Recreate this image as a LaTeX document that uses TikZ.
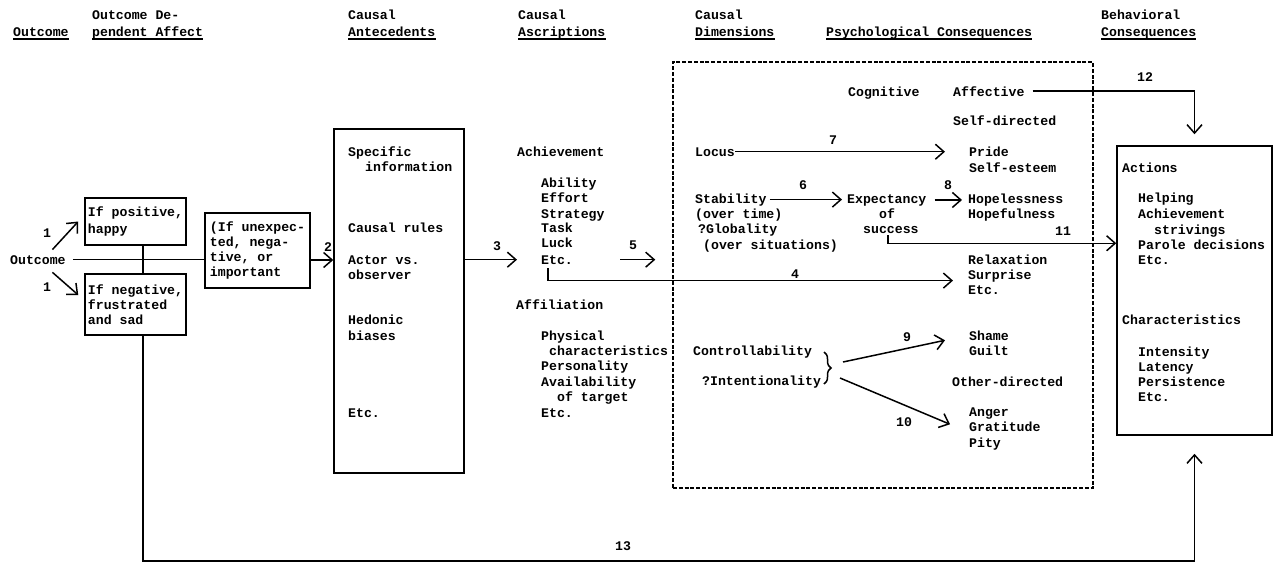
\documentclass[tikz,border=0pt]{standalone}
\usepackage{fontspec}
\setmonofont{Liberation Mono}
\usetikzlibrary{arrows.meta,decorations.pathreplacing}
\newcommand\tx[4]{\node[tl] (#1) at (#2,#3) {#4};}
\begin{document}
\begin{tikzpicture}[x=1pt,y=-1pt,
  every node/.style={font=\ttfamily\bfseries\fontsize{13.2}{15}\selectfont, inner sep=0pt},
  tl/.style={anchor=base west},
  num/.style={anchor=center},
  box/.style={draw, line width=1.5pt, align=left},
  ln/.style={line width=1.5pt},
  arr/.style={line width=1.5pt, -{Straight Barb[length=8.5pt,width=15pt]}},
  ul/.style={line width=1.3pt},
  dbox/.style={draw, line width=1.4pt, dash pattern=on 4pt off 1.8pt},
  brc/.style={line width=1.5pt, decorate, decoration={brace,amplitude=7pt}}
]
\fill[white] (0,0) rectangle (1277,563);
\useasboundingbox (0,0) rectangle (1277,563);

% headers
\tx{hOut}{13}{36}{Outcome}
\tx{hODa}{92}{19}{Outcome De-}
\tx{hODb}{92}{36}{pendent Affect}
\tx{hCAa}{348}{19}{Causal}
\tx{hCAb}{348}{36}{Antecedents}
\tx{hCSa}{518}{19}{Causal}
\tx{hCSb}{518}{36}{Ascriptions}
\tx{hCDa}{695}{19}{Causal}
\tx{hCDb}{695}{36}{Dimensions}
\tx{hPC}{826}{36}{Psychological Consequences}
\tx{hBCa}{1101}{19}{Behavioral}
\tx{hBCb}{1101}{36}{Consequences}
\foreach \n in {hOut,hODb,hCAb,hCSb,hCDb,hPC,hBCb}
  \draw[ul] ([yshift=-3pt]\n.base west) -- ([yshift=-3pt]\n.base east);

% outcome and affect
\tx{out}{10}{264}{Outcome}
\node[box, minimum width=101pt, minimum height=47pt] (pos) at (135.5,221.5) {If positive,\\[2pt]happy};
\node[box, minimum width=101pt, minimum height=61pt] (neg) at (135.5,304.5) {If negative,\\frustrated\\and sad};
\node[box, minimum width=105pt, minimum height=75pt] (unexp) at (257.5,250.5) {(If unexpec-\\ted, nega-\\tive, or\\important};

% antecedents
\node[box, minimum width=130pt, minimum height=344pt] (ant) at (399,301) {};
\tx{a1}{348}{156}{Specific}
\tx{a2}{365}{171}{information}
\tx{a3}{348}{232}{Causal rules}
\tx{a4}{348}{264}{Actor vs.}
\tx{a5}{348}{279}{observer}
\tx{a6}{348}{324}{Hedonic}
\tx{a7}{348}{340}{biases}
\tx{a8}{348}{417}{Etc.}

% ascriptions
\tx{s0}{517}{156}{Achievement}
\tx{s1}{541}{187}{Ability}
\tx{s2}{541}{202}{Effort}
\tx{s3}{541}{218}{Strategy}
\tx{s4}{541}{232}{Task}
\tx{s5}{541}{247}{Luck}
\tx{s6}{541}{264}{Etc.}
\tx{s7}{516}{309}{Affiliation}
\tx{s8}{541}{340}{Physical}
\tx{s9}{549}{355}{characteristics}
\tx{s10}{541}{370}{Personality}
\tx{s11}{541}{386}{Availability}
\tx{s12}{557}{401}{of target}
\tx{s13}{541}{417}{Etc.}

% dimensions / psychological consequences
\node[dbox, minimum width=420pt, minimum height=426pt] (dims) at (883,275) {};
\tx{d1}{848}{96}{Cognitive}
\tx{d2}{953}{96}{Affective}
\tx{d3}{953}{125}{Self-directed}
\tx{locus}{695}{156}{Locus}
\tx{pride}{969}{156}{Pride}
\tx{selfe}{969}{172}{Self-esteem}
\tx{stab}{695}{203}{Stability}
\tx{ot}{695}{218}{(over time)}
\tx{glob}{698}{233}{?Globality}
\tx{os}{703}{249}{(over situations)}
\tx{exp}{847}{203}{Expectancy}
\tx{of}{879}{218}{of}
\tx{succ}{863}{233}{success}
\tx{hopel}{968}{203}{Hopelessness}
\tx{hopef}{968}{218}{Hopefulness}
\tx{relax}{968}{264}{Relaxation}
\tx{surp}{968}{279}{Surprise}
\tx{retc}{968}{294}{Etc.}
\tx{ctrl}{693}{355}{Controllability}
\tx{intent}{702}{385}{?Intentionality}
\tx{shame}{969}{340}{Shame}
\tx{guilt}{969}{355}{Guilt}
\tx{other}{952}{386}{Other-directed}
\tx{anger}{969}{416}{Anger}
\tx{grat}{969}{431}{Gratitude}
\tx{pity}{969}{447}{Pity}

% behavioral consequences
\node[box, minimum width=155pt, minimum height=289pt] (act) at (1194.5,290.5) {};
\tx{b1}{1122}{172}{Actions}
\tx{b2}{1138}{202}{Helping}
\tx{b3}{1138}{218}{Achievement}
\tx{b4}{1154}{234}{strivings}
\tx{b5}{1138}{249}{Parole decisions}
\tx{b6}{1138}{264}{Etc.}
\tx{b7}{1122}{324}{Characteristics}
\tx{b8}{1138}{356}{Intensity}
\tx{b9}{1138}{371}{Latency}
\tx{b10}{1138}{386}{Persistence}
\tx{b11}{1138}{401}{Etc.}

% number labels
\node[num] (n1a) at (47,233) {1};
\node[num] (n1b) at (47,287) {1};
\node[num] (n2) at (328,247) {2};
\node[num] (n3) at (497,246) {3};
\node[num] (n4) at (795,274) {4};
\node[num] (n5) at (633,245) {5};
\node[num] (n6) at (803,185) {6};
\node[num] (n7) at (833,140) {7};
\node[num] (n8) at (948,185) {8};
\node[num] (n9) at (907,337) {9};
\node[num] (n10) at (904,422) {10};
\node[num] (n11) at (1063,231) {11};
\node[num] (n12) at (1145,77) {12};
\node[num] (n13) at (623,546) {13};

% connectors
\draw[ln] ([xshift=7pt]out.east) -- (out.east -| unexp.west);
\draw[ln] ([xshift=7.5pt]pos.south) -- ([xshift=7.5pt]neg.north);
\draw[arr] ([xshift=14.5pt,yshift=5.4pt]out.north) -- ([xshift=-6pt]pos.west);
\draw[arr] ([xshift=14.5pt,yshift=-8pt]out.south) -- ([xshift=-6pt,yshift=9.5pt]neg.west);
\draw[arr] ([yshift=-9.5pt]unexp.east) -- ([yshift=-9.5pt]unexp.east -| ant.west);
\draw[arr] (s6.west -| ant.east) -- ([xshift=-24pt]s6.west);
\draw[arr] ([xshift=47pt]s6.east) -- ([xshift=-17pt]s6.east -| dims.west);
\draw[arr] ([xshift=-9pt,yshift=-4pt]s6.south) |- ([xshift=-15pt,yshift=-5pt]surp.west);
\draw[arr] (locus.east) -- ([xshift=-24pt]pride.west |- locus.east);
\draw[arr] ([xshift=3pt]stab.east) -- ([xshift=-5pt]stab.east -| exp.west);
\draw[arr] ([xshift=8pt]exp.east) -- ([xshift=-6pt]exp.east -| hopel.west);
\draw[arr] ([xshift=-3pt,yshift=-2pt]succ.south) |- ([yshift=-98pt]act.north west);
\draw[arr] ([xshift=8pt]d2.east) -| ([yshift=11pt]act.north);
\coordinate (bra) at (824,352);
\coordinate (brb) at (824,384);
\coordinate (bt) at (838,368);
\draw[brc] (bra) -- (brb);
\draw[arr] ([shift={(5pt,6pt)}]bt) -- ([xshift=-24pt,yshift=-5pt]shame.west);
\draw[arr] ([shift={(2pt,-10pt)}]bt) -- ([xshift=-19pt,yshift=2pt]grat.west);
\draw[arr] ([xshift=7.5pt]neg.south) -- ++(0,225) -| ([yshift=-18pt]act.south);
\end{tikzpicture}
\end{document}
